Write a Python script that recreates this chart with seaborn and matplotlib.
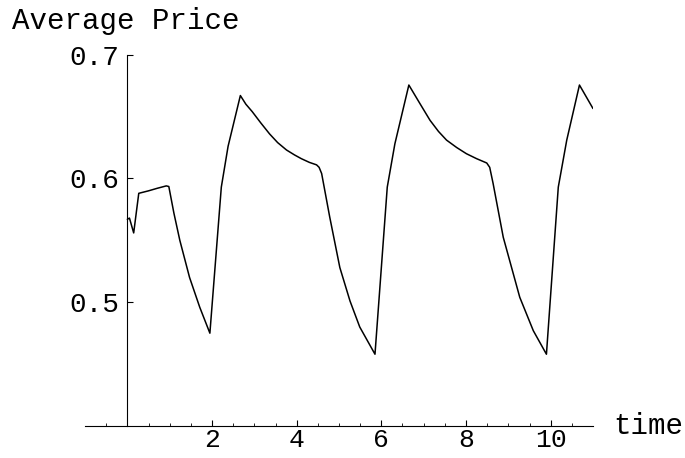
import numpy as np
import pandas as pd
import matplotlib
matplotlib.use("Agg")
import matplotlib.pyplot as plt
import seaborn as sns

# values
time = [0.0, 0.05, 0.15, 0.27, 0.5, 0.7, 0.92, 0.98, 1.1, 1.24, 1.47, 1.71, 1.95,
        2.22, 2.38, 2.67, 2.8, 2.95, 3.15, 3.36, 3.55, 3.76, 3.95, 4.11, 4.3, 4.47,
        4.53, 4.59, 4.78, 5.02, 5.26, 5.49, 5.85,
        6.14, 6.32, 6.65, 6.91, 7.15, 7.35, 7.54, 7.78, 8.01, 8.25, 8.49,
        8.56, 8.64, 8.88, 9.27, 9.59, 9.9,
        10.18, 10.38, 10.68, 11.0]
price = [0.567, 0.568, 0.556, 0.588, 0.590, 0.592, 0.594, 0.5935, 0.572, 0.550, 0.520, 0.496, 0.475,
         0.593, 0.626, 0.667, 0.660, 0.654, 0.645, 0.636, 0.629, 0.623, 0.619, 0.616, 0.613, 0.611,
         0.609, 0.604, 0.569, 0.528, 0.501, 0.480, 0.458,
         0.593, 0.628, 0.6755, 0.6606, 0.647, 0.638, 0.631, 0.625, 0.620, 0.616, 0.6125,
         0.609, 0.596, 0.5525, 0.504, 0.477, 0.458,
         0.593, 0.631, 0.6755, 0.6565]

x_ticks = [2, 4, 6, 8, 10]
y_ticks = [0.5, 0.6, 0.7]

sns.set_style("white")
plt.rcParams['font.family'] = ['Liberation Mono', 'DejaVu Sans Mono']
plt.rcParams['text.color'] = 'black'
plt.rcParams['xtick.color'] = 'black'
plt.rcParams['ytick.color'] = 'black'

fig = plt.figure(figsize=(6.85, 4.58), dpi=100)
ax = fig.add_axes([85 / 685, 32 / 458, 508 / 685, 371.3 / 458])

df = pd.DataFrame({"time": time, "price": price})
sns.lineplot(data=df, x="time", y="price", color="black", linewidth=1.1, ax=ax)

ax.set_xlim(-1, 11)
ax.set_ylim(0.4, 0.7)

ax.spines['top'].set_visible(False)
ax.spines['right'].set_visible(False)
ax.spines['left'].set_position(('data', 0))
for s in ['left', 'bottom']:
    ax.spines[s].set_linewidth(0.8)
    ax.spines[s].set_color('black')

ax.set_xticks(x_ticks)
ax.set_xticklabels([str(v) for v in x_ticks])
ax.set_xticks(np.arange(-0.5, 11, 0.5), minor=True)
ax.set_yticks(y_ticks)
ax.set_yticklabels(["0.5", "0.6", "0.7"])

ax.tick_params(axis='x', which='major', direction='in', length=4, width=0.8,
               pad=1.5, labelsize=19, bottom=True, colors='black')
ax.tick_params(axis='x', which='minor', direction='in', length=2.5, width=0.6,
               bottom=True, colors='black')
ax.tick_params(axis='y', which='major', direction='in', length=4, width=0.8,
               pad=6, labelsize=20, left=True, colors='black')

ax.set_xlabel("")
ax.set_ylabel("")
fig.text(12 / 685, 1 - 21 / 458, "Average Price", fontsize=21, va='center', ha='left')
fig.text(613 / 685, 1 - 426 / 458, "time", fontsize=21, va='center', ha='left')

ax.grid(False)
fig.savefig("out.png", dpi=100, facecolor='white')
